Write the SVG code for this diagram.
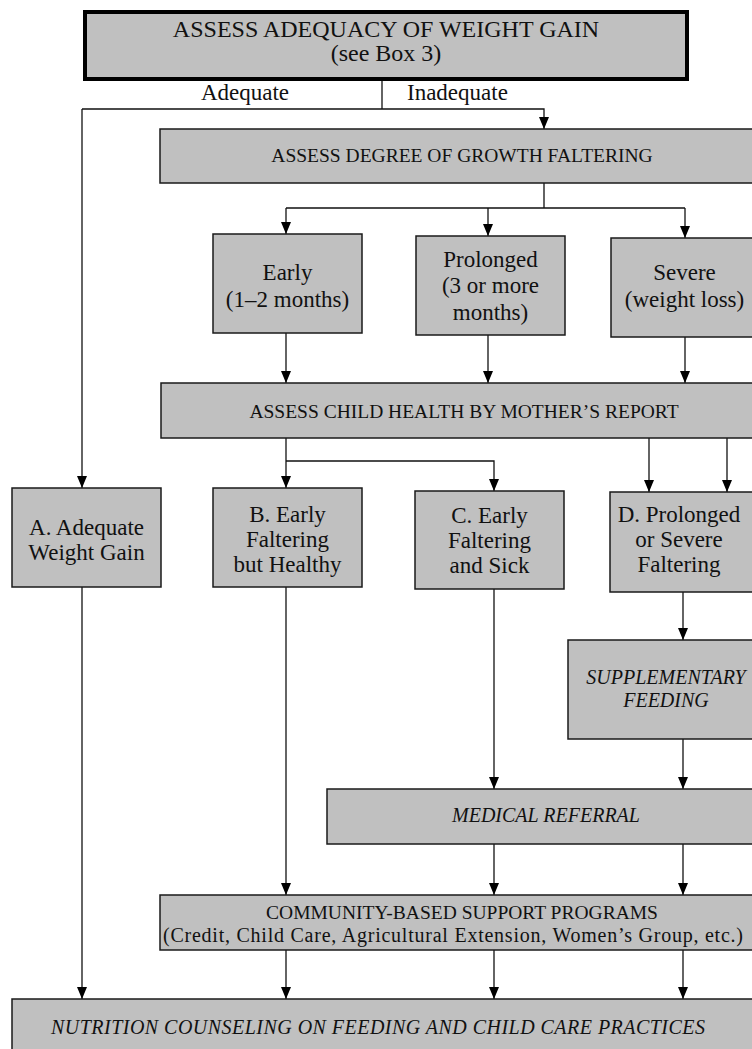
<svg xmlns="http://www.w3.org/2000/svg" width="752" height="1049" viewBox="0 0 752 1049">
<style>
  .box { fill: #c0c0c0; stroke: #1a1a1a; stroke-width: 1.5; }
  .thick { fill: #c0c0c0; stroke: #000; stroke-width: 4; }
  .t { font-family: "Liberation Serif", "Times New Roman", serif; fill: #111; text-anchor: middle; }
  .title { font-size: 24px; }
  .cap { font-size: 19.5px; }
  .node { font-size: 23px; }
  .ital { font-size: 20px; font-style: italic; }
  .lbl { font-family: "Liberation Serif", "Times New Roman", serif; font-size: 23px; fill: #111; }
  .c { fill: none; stroke: #111; stroke-width: 1.3; }
  .a { marker-end: url(#arr); }
</style>
<defs>
  <marker id="arr" markerUnits="userSpaceOnUse" viewBox="0 -5 12 10" refX="12" refY="0" markerWidth="12" markerHeight="10" orient="auto">
    <path d="M0,-5 L12,0 L0,5 z" fill="#000"/>
  </marker>
</defs>
<rect width="752" height="1049" fill="#fff"/>

<g id="connectors">
  <path class="c" d="M382,80 V109"/>
  <path class="c a" d="M82,109 H544 V129"/>
  <path class="c a" d="M82,109 V488"/>
  <path class="c" d="M544,183 V208 M286,208 H685"/>
  <path class="c a" d="M286,208 V234"/>
  <path class="c a" d="M488,208 V236"/>
  <path class="c a" d="M685,208 V238"/>
  <path class="c a" d="M286,333 V383"/>
  <path class="c a" d="M488,335 V383"/>
  <path class="c a" d="M685,337 V383"/>
  <path class="c a" d="M286,438 V488"/>
  <path class="c a" d="M286,461 H494 V491"/>
  <path class="c a" d="M649,438 V492"/>
  <path class="c a" d="M727,438 V492"/>
  <path class="c a" d="M683,592 V640"/>
  <path class="c a" d="M494,589 V789"/>
  <path class="c a" d="M683,739 V789"/>
  <path class="c a" d="M82,587 V999"/>
  <path class="c a" d="M286,587 V895"/>
  <path class="c a" d="M494,844 V895"/>
  <path class="c a" d="M683,844 V895"/>
  <path class="c a" d="M286,950 V999"/>
  <path class="c a" d="M494,950 V999"/>
  <path class="c a" d="M683,950 V999"/>
  <text class="lbl" x="245" y="100" text-anchor="middle">Adequate</text>
  <text class="lbl" x="407" y="100">Inadequate</text>
</g>

<g id="n-assess-weight">
  <rect class="thick" x="85" y="12" width="602" height="67"/>
  <text class="t title" x="386" y="37">ASSESS ADEQUACY OF WEIGHT GAIN</text>
  <text class="t title" x="386" y="61">(see Box 3)</text>
</g>

<g id="n-assess-degree">
  <rect class="box" x="160" y="129" width="600" height="54"/>
  <text class="t cap" x="462" y="162">ASSESS DEGREE OF GROWTH FALTERING</text>
</g>

<g id="n-early">
  <rect class="box" x="213" y="234" width="149" height="99"/>
  <text class="t node" x="287.5" y="280">Early</text>
  <text class="t node" x="287.5" y="307">(1–2 months)</text>
</g>

<g id="n-prolonged">
  <rect class="box" x="416" y="236" width="149" height="99"/>
  <text class="t node" x="490.5" y="267">Prolonged</text>
  <text class="t node" x="490.5" y="293">(3 or more</text>
  <text class="t node" x="490.5" y="320">months)</text>
</g>

<g id="n-severe">
  <rect class="box" x="611" y="238" width="150" height="99"/>
  <text class="t node" x="684.5" y="280">Severe</text>
  <text class="t node" x="684.5" y="307">(weight loss)</text>
</g>

<g id="n-assess-health">
  <rect class="box" x="161" y="383" width="600" height="55"/>
  <text class="t cap" x="464" y="418">ASSESS CHILD HEALTH BY MOTHER’S REPORT</text>
</g>

<g id="n-a">
  <rect class="box" x="12" y="488" width="149" height="99"/>
  <text class="t node" x="86.5" y="535">A. Adequate</text>
  <text class="t node" x="86.5" y="560">Weight Gain</text>
</g>

<g id="n-b">
  <rect class="box" x="213" y="488" width="149" height="99"/>
  <text class="t node" x="287.5" y="522">B. Early</text>
  <text class="t node" x="287.5" y="547">Faltering</text>
  <text class="t node" x="287.5" y="572">but Healthy</text>
</g>

<g id="n-c">
  <rect class="box" x="415" y="491" width="149" height="98"/>
  <text class="t node" x="489.5" y="523">C. Early</text>
  <text class="t node" x="489.5" y="548">Faltering</text>
  <text class="t node" x="489.5" y="573">and Sick</text>
</g>

<g id="n-d">
  <rect class="box" x="610" y="492" width="150" height="100"/>
  <text class="t node" x="679" y="522">D. Prolonged</text>
  <text class="t node" x="679" y="547">or Severe</text>
  <text class="t node" x="679" y="572">Faltering</text>
</g>

<g id="n-supplementary">
  <rect class="box" x="568" y="640" width="195" height="99"/>
  <text class="t ital" x="666" y="684">SUPPLEMENTARY</text>
  <text class="t ital" x="666" y="707">FEEDING</text>
</g>

<g id="n-medical">
  <rect class="box" x="327" y="789" width="440" height="55"/>
  <text class="t ital" x="546" y="822">MEDICAL REFERRAL</text>
</g>

<g id="n-community">
  <rect class="box" x="160" y="895" width="600" height="55"/>
  <text class="t cap" x="462" y="919">COMMUNITY-BASED SUPPORT PROGRAMS</text>
  <text class="t" x="453" y="942" font-size="20" textLength="580">(Credit, Child Care, Agricultural Extension, Women’s Group, etc.)</text>
</g>

<g id="n-nutrition">
  <rect class="box" x="12" y="999" width="760" height="60"/>
  <text class="t ital" x="378" y="1034" font-size="19.5" textLength="654">NUTRITION COUNSELING ON FEEDING AND CHILD CARE PRACTICES</text>
</g>
</svg>
